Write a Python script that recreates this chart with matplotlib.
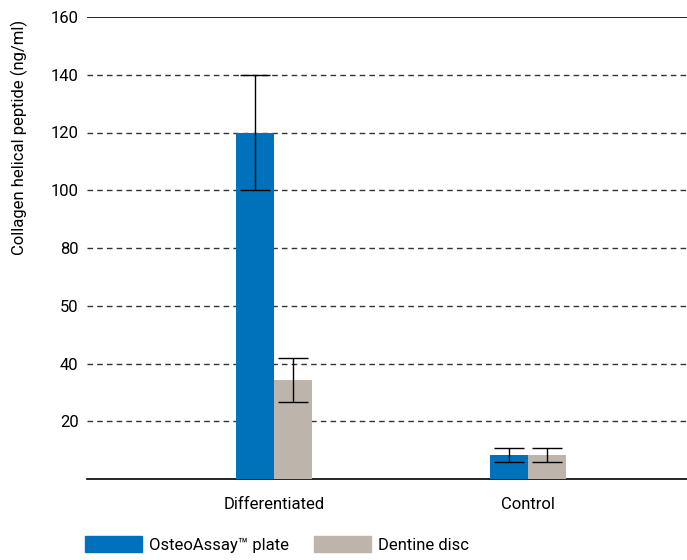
import matplotlib.pyplot as plt
import numpy as np
from matplotlib.patches import Patch

plt.rcParams['font.family'] = ['Roboto', 'DejaVu Sans']

groups = ['Differentiated', 'Control']
osteo_vals = [120.0, 8.2]
osteo_err = [20.0, 2.4]
dentine_vals = [34.3, 8.2]
dentine_err = [7.5, 2.4]
ytick_vals = [20, 40, 60, 80, 100, 120, 140, 160]
ytick_text = ['20', '40', '50', '80', '100', '120', '140', '160']

blue = '#0072bc'
beige = '#bdb5ac'

fig = plt.figure(figsize=(6.87, 5.60), dpi=100)
ax = fig.add_axes([87/687, 81/560, 600/687, 462/560])

x = np.arange(len(groups))
w = 0.15
err_kw = dict(ecolor='black', elinewidth=1, capsize=11, capthick=1)
ax.bar(x - w/2, osteo_vals, w, color=blue, yerr=osteo_err, error_kw=err_kw, zorder=3)
ax.bar(x + w/2, dentine_vals, w, color=beige, yerr=dentine_err, error_kw=err_kw, zorder=3)

# dashed grid below the top line, solid line at 160
for v in ytick_vals[:-1]:
    ax.axhline(v, color='#333333', lw=1, ls=(0, (4, 3)), zorder=1)
ax.axhline(160, color='black', lw=1.2, zorder=1)

ax.set_xlim(-0.736, 1.626)
ax.set_ylim(0, 160)
ax.set_yticks(ytick_vals)
ax.set_yticklabels(ytick_text, fontsize=12)
ax.set_xticks(x)
ax.set_xticklabels(groups, fontsize=12)
ax.tick_params(axis='both', length=0)
ax.tick_params(axis='y', pad=6)
ax.tick_params(axis='x', pad=13)
for side in ['top', 'right', 'left']:
    ax.spines[side].set_visible(False)
ax.spines['bottom'].set_linewidth(1.2)
ax.set_ylabel('Collagen helical peptide (ng/ml)', fontsize=12)
ax.yaxis.set_label_coords(-0.098, 0.74)

handles = [Patch(color=blue, label='OsteoAssay\u2122 plate'),
           Patch(color=beige, label='Dentine disc')]
fig.legend(handles=handles, loc='lower left', bbox_to_anchor=(0.102, -0.014),
           ncol=2, frameon=False, fontsize=12, handlelength=3.4,
           handleheight=1.1, handletextpad=0.45, columnspacing=1.5)

fig.savefig('out.png', dpi=100)
